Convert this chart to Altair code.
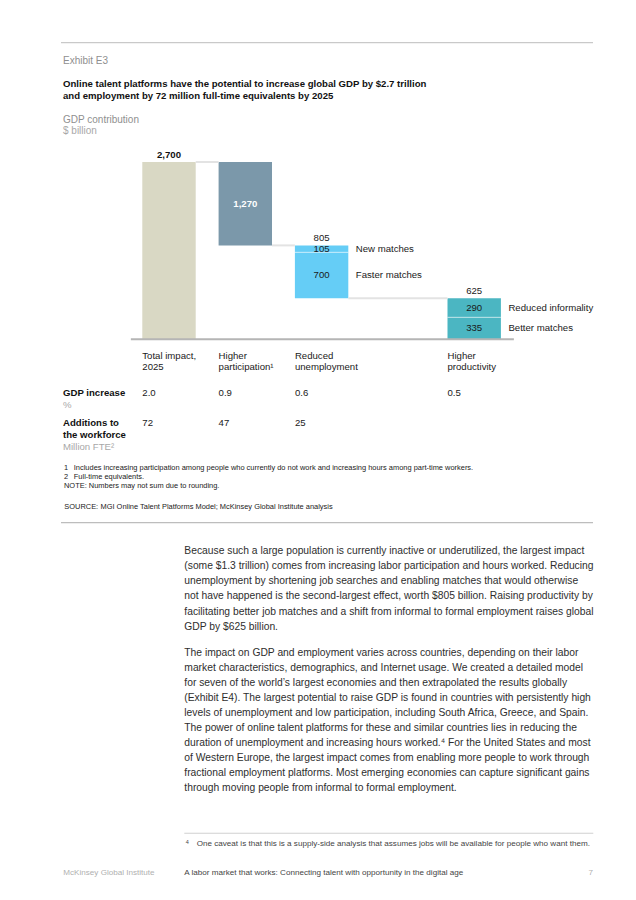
import altair as alt
import pandas as pd

FONT = "Liberation Sans"
W, H = 612, 876

# ---------------- data ----------------
EXHIBIT = "Exhibit E3"
TITLE_LINES = [
    "Online talent platforms have the potential to increase global GDP by $2.7 trillion",
    "and employment by 72 million full-time equivalents by 2025",
]
UNIT_TITLE = "GDP contribution"
UNIT_SUB = "$ billion"

CATEGORIES = ["Total impact", "Higher participation", "Reduced unemployment", "Higher productivity"]
CATEGORY_LINE1 = ["Total impact,", "Higher", "Reduced", "Higher"]
CATEGORY_LINE2 = ["2025", "participation¹", "unemployment", "productivity"]
SLOTS = [0, 1, 2, 4]
BAR_TOP_LABELS = ["2,700", "", "805", "625"]

SEG_CATEGORY = ["Total impact", "Higher participation", "Reduced unemployment",
                "Reduced unemployment", "Higher productivity", "Higher productivity"]
SEG_NAME = ["Total", "Participation", "New matches", "Faster matches",
            "Reduced informality", "Better matches"]
SEG_VALUE = [2700, 1270, 105, 700, 290, 335]
SEG_LABEL = ["", "1,270", "105", "700", "290", "335"]
SEG_SIDE_LABEL = ["", "", "New matches", "Faster matches", "Reduced informality", "Better matches"]
SEG_COLORS = ["#d9d8c4", "#7b98aa", "#65cdf6", "#65cdf6", "#4bb6c2", "#4bb6c2"]

GDP_INCREASE = ["2.0", "0.9", "0.6", "0.5"]
WORKFORCE = ["72", "47", "25", ""]

FOOTNOTE_NUMS = ["1", "2"]
FOOTNOTES = [
    "Includes increasing participation among people who currently do not work and increasing hours among part-time workers.",
    "Full-time equivalents.",
]
NOTE = "NOTE: Numbers may not sum due to rounding."
SOURCE_LABEL = "SOURCE:"
SOURCE = "MGI Online Talent Platforms Model; McKinsey Global Institute analysis"

PARA1 = [
    "Because such a large population is currently inactive or underutilized, the largest impact",
    "(some $1.3 trillion) comes from increasing labor participation and hours worked. Reducing",
    "unemployment by shortening job searches and enabling matches that would otherwise",
    "not have happened is the second-largest effect, worth $805 billion. Raising productivity by",
    "facilitating better job matches and a shift from informal to formal employment raises global",
    "GDP by $625 billion.",
]
PARA2 = [
    "The impact on GDP and employment varies across countries, depending on their labor",
    "market characteristics, demographics, and Internet usage. We created a detailed model",
    "for seven of the world’s largest economies and then extrapolated the results globally",
    "(Exhibit E4). The largest potential to raise GDP is found in countries with persistently high",
    "levels of unemployment and low participation, including South Africa, Greece, and Spain.",
    "The power of online talent platforms for these and similar countries lies in reducing the",
    "duration of unemployment and increasing hours worked.⁴ For the United States and most",
    "of Western Europe, the largest impact comes from enabling more people to work through",
    "fractional employment platforms. Most emerging economies can capture significant gains",
    "through moving people from informal to formal employment.",
]
PAGE_NOTE_NUM = "4"
PAGE_NOTE = "One caveat is that this is a supply-side analysis that assumes jobs will be available for people who want them."
FOOTER_LEFT = "McKinsey Global Institute"
FOOTER_TITLE = "A labor market that works: Connecting talent with opportunity in the digital age"
PAGE_NUMBER = "7"

# ---------------- build tables ----------------
slot_of = dict(zip(CATEGORIES, SLOTS))
HALF = 0.35
rows = []
level = None
for cat, name, val, lab, side, col in zip(SEG_CATEGORY, SEG_NAME, SEG_VALUE, SEG_LABEL, SEG_SIDE_LABEL, SEG_COLORS):
    if level is None:
        y0, y1 = 0, val
        level = val
    else:
        y0, y1 = level - val, level
        level -= val
    s = slot_of[cat]
    rows.append(dict(cat=cat, name=name, lo=s - HALF, ctr=s, hi=s + HALF, y0=y0, y1=y1,
                     mid=(y0 + y1) / 2, label=lab, side=side, color=col))
seg = pd.DataFrame(rows)

cat_df = pd.DataFrame({
    "cat": CATEGORIES,
    "lo": [s - HALF for s in SLOTS],
    "ctr": SLOTS,
    "hi": [s + HALF for s in SLOTS],
    "l1": CATEGORY_LINE1,
    "l2": CATEGORY_LINE2,
    "gdp": GDP_INCREASE,
    "add": WORKFORCE,
    "toplab": BAR_TOP_LABELS,
})
cat_df["top"] = [seg[seg.cat == c].y1.max() for c in CATEGORIES]

# connectors between consecutive bars
conn = []
for i in range(len(CATEGORIES) - 1):
    a, b = cat_df.iloc[i], cat_df.iloc[i + 1]
    conn.append(dict(x=a["hi"], x2=b["lo"], y=b["top"]))
conn = pd.DataFrame(conn)

# separators inside stacked bars
sep = []
for c in CATEGORIES:
    sub = seg[seg.cat == c]
    if len(sub) > 1:
        for v in sorted(sub.y0)[1:]:
            sep.append(dict(x=sub.lo.iloc[0], x2=sub.hi.iloc[0], y=v))
sep = pd.DataFrame(sep)

baseline = pd.DataFrame({"x": [-0.5], "x2": [4.52], "y": [0]})

xs = alt.Scale(domain=[0, 4], range=[161, 466.2], nice=False, zero=False)
ys = alt.Scale(domain=[0, 2700], range=[331.3, 154], nice=False, zero=False)


def X(f):
    return alt.X(f, type="quantitative", scale=xs, axis=None)


def Y(f):
    return alt.Y(f, type="quantitative", scale=ys, axis=None)


ONE = alt.Data(values=[{"a": 1}])


def txt(text, x, y, size, color="#1a1a1a", weight="normal", align="left", lh=None):
    props = dict(font=FONT, fontSize=size, color=color, fontWeight=weight, align=align)
    if isinstance(text, list) and len(text) > 1:
        props.update(text=text, lineHeight=lh, baseline="alphabetic")
        yy = y + 0.3 * size
    else:
        props.update(text=text if isinstance(text, str) else text[0], baseline="middle")
        yy = y
    return alt.Chart(ONE).mark_text(**props).encode(x=alt.value(x), y=alt.value(yy))


def hrule(x1, x2, y, color, w=1):
    return alt.Chart(ONE).mark_rule(color=color, strokeWidth=w).encode(
        x=alt.value(x1), x2=alt.value(x2), y=alt.value(y))


layers = []

# page rules
layers.append(hrule(53, 585, 34.7, "#c9c9c9", 1.3))
layers.append(hrule(53, 585, 514.7, "#bdbdbd", 1.3))
layers.append(hrule(176.3, 585.3, 825.3, "#d0d0d0", 1.1))

# headings
layers.append(txt(EXHIBIT, 55, 52.7, 10, color="#8f8f8f"))
layers.append(txt(TITLE_LINES, 55, 76.3, 9.6, color="#111111", weight="bold", lh=11.4))
layers.append(txt(UNIT_TITLE, 55, 112, 10, color="#8f8f8f"))
layers.append(txt(UNIT_SUB, 55, 122.7, 10, color="#a8a8a8"))

# waterfall
bars = alt.Chart(seg).mark_bar().encode(
    x=X("lo"), x2="hi", y=Y("y0"), y2="y1",
    color=alt.Color("name:N", scale=alt.Scale(domain=SEG_NAME, range=SEG_COLORS), legend=None),
)
layers.append(bars)
layers.append(alt.Chart(sep).mark_rule(color="white", opacity=0.45, strokeWidth=1.2).encode(
    x=X("x"), x2="x2", y=Y("y")))
layers.append(alt.Chart(conn).mark_rule(color="#e3e3e3", strokeWidth=2).encode(
    x=X("x"), x2="x2", y=Y("y")))
layers.append(alt.Chart(baseline).mark_rule(color="#b5b5b5", strokeWidth=2).encode(
    x=X("x"), x2="x2", y=Y("y")))

seg_lab = seg[seg.label != ""]
layers.append(alt.Chart(seg_lab[seg_lab.name != "Participation"]).mark_text(
    font=FONT, fontSize=9.6, color="#1a1a1a", baseline="middle").encode(
    x=X("ctr"), y=Y("mid"), text="label:N"))
layers.append(alt.Chart(seg_lab[seg_lab.name == "Participation"]).mark_text(
    font=FONT, fontSize=9.6, color="white", fontWeight="bold", baseline="middle").encode(
    x=X("ctr"), y=Y("mid"), text="label:N"))
layers.append(alt.Chart(seg[seg.side != ""]).mark_text(
    font=FONT, fontSize=9.6, color="#1a1a1a", baseline="middle", align="left", dx=7.5).encode(
    x=X("hi"), y=Y("mid"), text="side:N"))

tops = cat_df[cat_df.toplab != ""]
layers.append(alt.Chart(tops[tops.cat == "Total impact"]).mark_text(
    font=FONT, fontSize=9.6, color="#111111", fontWeight="bold", baseline="middle", dy=-7.5).encode(
    x=X("ctr"), y=Y("top"), text="toplab:N"))
layers.append(alt.Chart(tops[tops.cat != "Total impact"]).mark_text(
    font=FONT, fontSize=9.6, color="#1a1a1a", baseline="middle", dy=-7.5).encode(
    x=X("ctr"), y=Y("top"), text="toplab:N"))


# category labels and table
def cat_text(field, y, df=cat_df):
    return alt.Chart(df).mark_text(font=FONT, fontSize=9.6, color="#1a1a1a",
                                   baseline="middle", align="left").encode(
        x=X("lo"), y=alt.value(y), text=f"{field}:N")


layers.append(cat_text("l1", 347.7))
layers.append(cat_text("l2", 359))
layers.append(cat_text("gdp", 385.3))
layers.append(cat_text("add", 414.7, cat_df[cat_df["add"] != ""]))

layers.append(txt("GDP increase", 55, 385.3, 9.6, weight="bold", color="#111111"))
layers.append(txt("%", 55, 397, 9.6, color="#a8a8a8"))
layers.append(txt(["Additions to", "the workforce"], 55, 414.7, 9.6, weight="bold", color="#111111", lh=12.3))
layers.append(txt("Million FTE²", 55, 438.7, 9.6, color="#a8a8a8"))

# chart footnotes
FN = 7.45
for i, (n, t) in enumerate(zip(FOOTNOTE_NUMS, FOOTNOTES)):
    yy = 459.7 + 9 * i
    layers.append(txt(n, 56, yy, FN, color="#222222"))
    layers.append(txt(t, 65.8, yy, FN, color="#222222"))
layers.append(txt(NOTE, 56, 477.7, FN, color="#222222"))
layers.append(txt(SOURCE_LABEL, 56.3, 499.3, FN, color="#222222"))
layers.append(txt(SOURCE, 92.5, 499.3, FN, color="#222222"))

# body text
layers.append(txt(PARA1, 176.3, 542.7, 10.3, color="#2e2e2e", lh=15.2))
layers.append(txt(PARA2, 176.3, 644.7, 10.3, color="#2e2e2e", lh=15.0))

# page footnote and footer
layers.append(txt(PAGE_NOTE_NUM, 177.7, 834, 5.5, color="#444444"))
layers.append(txt(PAGE_NOTE, 188.7, 836.3, 8.1, color="#444444"))
layers.append(txt(FOOTER_LEFT, 55.3, 865.3, 8.1, color="#b0b0b0"))
layers.append(txt(FOOTER_TITLE, 176.3, 865.3, 8.1, color="#444444"))
layers.append(txt(PAGE_NUMBER, 585, 865.3, 8.1, color="#b0b0b0", align="right"))

chart = alt.layer(*layers).properties(
    width=W, height=H, padding=0, background="white",
    autosize=alt.AutoSizeParams(type="none"),
).configure_view(strokeWidth=0, stroke="transparent")

chart.save("out.html", embed_options={"renderer": "svg", "actions": False})
